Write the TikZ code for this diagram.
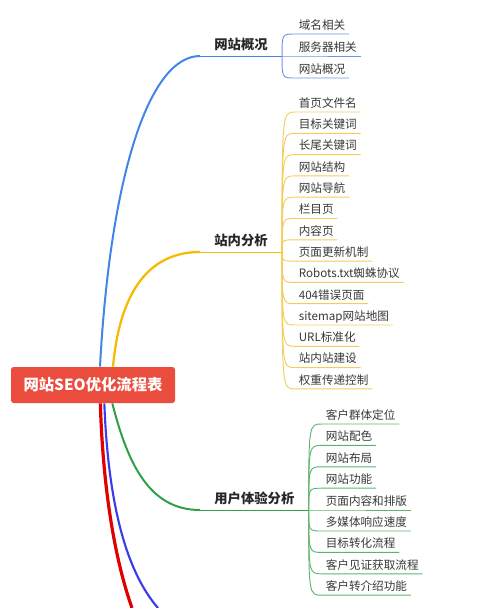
\documentclass[tikz,border=0pt]{standalone}
\usepackage{fontspec}
\setmainfont{Noto Sans CJK SC}
\definecolor{rootred}{RGB}{234,76,61}
\definecolor{brblue}{RGB}{66,133,230}
\definecolor{bryellow}{RGB}{246,186,0}
\definecolor{brgreen}{RGB}{46,160,70}
\definecolor{brred}{RGB}{225,0,0}
\definecolor{brnavy}{RGB}{60,60,230}
\definecolor{lfblue}{RGB}{105,150,225}
\definecolor{lfyellow}{RGB}{244,204,90}
\definecolor{lfgreen}{RGB}{95,178,112}
\definecolor{txtgray}{RGB}{55,55,55}
\tikzset{every picture/.style={line width=0.55pt}}
\tikzset{
  branch/.style={anchor=south west, inner xsep=10.5pt, inner ysep=2pt, text height=8pt, text depth=2.5pt, font=\fontsize{10}{12}\selectfont\bfseries, text=txtgray!70!black},
  leaf/.style={anchor=south west, inner xsep=2.6pt, inner ysep=1.2pt, text height=7.5pt, text depth=2pt, font=\fontsize{8.7}{10}\selectfont, text=txtgray},
  trunk/.style={line width=1.5pt},
  twig/.style={line width=0.7pt},
}

\begin{document}
\begin{tikzpicture}[x=0.75pt,y=0.75pt,yscale=-1,xscale=1]
            \path [use as bounding box] (0,0) rectangle (500,608);
            % Root Node
            \node (root) at (93,385) [rectangle, rounded corners=2pt, fill=rootred, minimum width=123pt, minimum height=27pt, inner sep=0pt, text=white, font=\fontsize{11.5}{13}\selectfont\bfseries] {网站SEO优化流程表};
            % Branch Nodes
            \node (gk) at (200,56) [branch] {网站概况};
            \node (zn) at (200,252) [branch] {站内分析};
            \node (yh) at (200,510) [branch] {用户体验分析};
            \coordinate (redend) at (132,608);
            \coordinate (navyend) at (158,608);
            %Curve Lines
            \draw [brblue, trunk]  ([xshift=5.25pt]root.north) .. controls (110,180) and (148,56) .. (gk.south west) ;
            \draw [brblue, twig]  (gk.south west) -- (gk.south east) ;
            %Curve Lines
            \draw [bryellow, trunk, line width=1.7pt]  ([xshift=15pt]root.north) .. controls (120,290) and (150,252) .. (zn.south west) ;
            \draw [bryellow, twig]  (zn.south west) -- (zn.south east) ;
            %Curve Lines
            \draw [brgreen, trunk]  ([xshift=14.5pt]root.south) .. controls (128,465) and (150,510) .. (yh.south west) ;
            \draw [brgreen, twig]  (yh.south west) -- (yh.south east) ;
            %Curve Lines
            \draw [brnavy, trunk, line width=1.6pt]  ([xshift=8.5pt]root.south) .. controls (108,500) and (125,570) .. (navyend) ;
            %Curve Lines
            \draw [brred, trunk, line width=2.4pt]  ([xshift=5.5pt]root.south) .. controls (103,490) and (115,560) .. (redend) ;
            % Text Node
            \node (gk1) at (295,34) [leaf] {域名相关};
            \node (gk2) at (295,56) [leaf] {服务器相关};
            \node (gk3) at (295,78) [leaf] {网站概况};
            %Curve Lines
            \draw [lfblue, twig]  (gk.south east) .. controls (gk.south east |- gk1.south west) .. (gk1.south west) -- (gk1.south east) ;
            \draw [lfblue, twig]  (gk.south east) -- (gk2.south west) -- (gk2.south east) ;
            \draw [lfblue, twig]  (gk.south east) .. controls (gk.south east |- gk3.south west) .. (gk3.south west) -- (gk3.south east) ;
            % Text Node
            \node (zn1) at (295,112) [leaf] {首页文件名};
            \node (zn2) at (295,133.3) [leaf] {目标关键词};
            \node (zn3) at (295,154.6) [leaf] {长尾关键词};
            \node (zn4) at (295,175.9) [leaf] {网站结构};
            \node (zn5) at (295,197.2) [leaf] {网站导航};
            \node (zn6) at (295,218.5) [leaf] {栏目页};
            \node (zn7) at (295,239.8) [leaf] {内容页};
            \node (zn8) at (295,261.1) [leaf] {页面更新机制};
            \node (zn9) at (295,282.4) [leaf] {Robots.txt蜘蛛协议};
            \node (zn10) at (295,303.7) [leaf] {404错误页面};
            \node (zn11) at (295,325) [leaf] {sitemap网站地图};
            \node (zn12) at (295,346.3) [leaf] {URL标准化};
            \node (zn13) at (295,367.6) [leaf] {站内站建设};
            \node (zn14) at (295,388.9) [leaf] {权重传递控制};
            %Curve Lines
            \draw [lfyellow, twig]  (zn.south east) .. controls (zn.south east |- zn1.south west) .. (zn1.south west) -- (zn1.south east) ;
            \draw [lfyellow, twig]  (zn.south east) .. controls (zn.south east |- zn2.south west) .. (zn2.south west) -- (zn2.south east) ;
            \draw [lfyellow, twig]  (zn.south east) .. controls (zn.south east |- zn3.south west) .. (zn3.south west) -- (zn3.south east) ;
            \draw [lfyellow, twig]  (zn.south east) .. controls (zn.south east |- zn4.south west) .. (zn4.south west) -- (zn4.south east) ;
            \draw [lfyellow, twig]  (zn.south east) .. controls (zn.south east |- zn5.south west) .. (zn5.south west) -- (zn5.south east) ;
            \draw [lfyellow, twig]  (zn.south east) .. controls (zn.south east |- zn6.south west) .. (zn6.south west) -- (zn6.south east) ;
            \draw [lfyellow, twig]  (zn.south east) .. controls (zn.south east |- zn7.south west) .. (zn7.south west) -- (zn7.south east) ;
            \draw [lfyellow, twig]  (zn.south east) .. controls (zn.south east |- zn8.south west) .. (zn8.south west) -- (zn8.south east) ;
            \draw [lfyellow, twig]  (zn.south east) .. controls (zn.south east |- zn9.south west) .. (zn9.south west) -- (zn9.south east) ;
            \draw [lfyellow, twig]  (zn.south east) .. controls (zn.south east |- zn10.south west) .. (zn10.south west) -- (zn10.south east) ;
            \draw [lfyellow, twig]  (zn.south east) .. controls (zn.south east |- zn11.south west) .. (zn11.south west) -- (zn11.south east) ;
            \draw [lfyellow, twig]  (zn.south east) .. controls (zn.south east |- zn12.south west) .. (zn12.south west) -- (zn12.south east) ;
            \draw [lfyellow, twig]  (zn.south east) .. controls (zn.south east |- zn13.south west) .. (zn13.south west) -- (zn13.south east) ;
            \draw [lfyellow, twig]  (zn.south east) .. controls (zn.south east |- zn14.south west) .. (zn14.south west) -- (zn14.south east) ;
            % Text Node
            \node (yh1) at (322,424) [leaf] {客户群体定位};
            \node (yh2) at (322,445.4) [leaf] {网站配色};
            \node (yh3) at (322,466.8) [leaf] {网站布局};
            \node (yh4) at (322,488.2) [leaf] {网站功能};
            \node (yh5) at (322,510) [leaf] {页面内容和排版};
            \node (yh6) at (322,531) [leaf] {多媒体响应速度};
            \node (yh7) at (322,552.4) [leaf] {目标转化流程};
            \node (yh8) at (322,573.8) [leaf] {客户见证获取流程};
            \node (yh9) at (322,595.2) [leaf] {客户转介绍功能};
            %Curve Lines
            \draw [lfgreen, twig]  (yh.south east) .. controls (yh.south east |- yh1.south west) .. (yh1.south west) -- (yh1.south east) ;
            \draw [lfgreen, twig]  (yh.south east) .. controls (yh.south east |- yh2.south west) .. (yh2.south west) -- (yh2.south east) ;
            \draw [lfgreen, twig]  (yh.south east) .. controls (yh.south east |- yh3.south west) .. (yh3.south west) -- (yh3.south east) ;
            \draw [lfgreen, twig]  (yh.south east) .. controls (yh.south east |- yh4.south west) .. (yh4.south west) -- (yh4.south east) ;
            \draw [lfgreen, twig]  (yh.south east) -- (yh5.south west) -- (yh5.south east) ;
            \draw [lfgreen, twig]  (yh.south east) .. controls (yh.south east |- yh6.south west) .. (yh6.south west) -- (yh6.south east) ;
            \draw [lfgreen, twig]  (yh.south east) .. controls (yh.south east |- yh7.south west) .. (yh7.south west) -- (yh7.south east) ;
            \draw [lfgreen, twig]  (yh.south east) .. controls (yh.south east |- yh8.south west) .. (yh8.south west) -- (yh8.south east) ;
            \draw [lfgreen, twig]  (yh.south east) .. controls (yh.south east |- yh9.south west) .. (yh9.south west) -- (yh9.south east) ;
        \end{tikzpicture}
\end{document}
